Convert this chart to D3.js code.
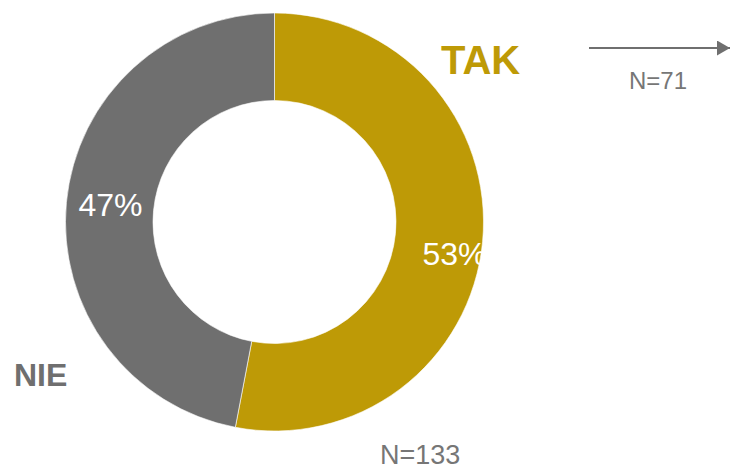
<!DOCTYPE html>
<html>
<head>
<meta charset="utf-8">
<script src="https://cdn.jsdelivr.net/npm/d3@7"></script>
<style>
  body { margin: 0; background: #fff; }
  text { font-family: Arial, "Liberation Sans", sans-serif; }
</style>
</head>
<body>
<div id="chart"></div>
<script>
// Data
const categories = ["TAK", "NIE"];
const values = [53, 47];
const colors = ["#BE9A06", "#6F6F6F"];
const totalLabel = "N=133";
const subLabel = "N=71";

const width = 730;
const height = 469;
const cx = 274.5, cy = 222;
const outerR = 209, innerR = 121.5;

const svg = d3.select("#chart")
    .append("svg")
    .attr("width", width)
    .attr("height", height);

const pie = d3.pie().sort(null).value(d => d)(values);
const arc = d3.arc().innerRadius(innerR).outerRadius(outerR);

const g = svg.append("g").attr("transform", `translate(${cx},${cy})`);

g.selectAll("path")
    .data(pie)
    .enter()
    .append("path")
    .attr("d", arc)
    .attr("fill", (d, i) => colors[i])
    .attr("stroke", "#fff")
    .attr("stroke-width", 0.6);

// percentage labels (white)
const pctPos = [[148, 43], [-196, -6]];
g.selectAll(".pct")
    .data(pie)
    .enter()
    .append("text")
    .attr("class", "pct")
    .attr("x", (d, i) => pctPos[i][0])
    .attr("y", (d, i) => pctPos[i][1])
    .attr("fill", "#fff")
    .attr("font-size", 32)
    .text(d => d.value + "%");

// category labels
svg.append("text")
    .attr("x", 441).attr("y", 74)
    .attr("fill", colors[0])
    .attr("font-size", 40)
    .attr("font-weight", "bold")
    .text(categories[0]);

svg.append("text")
    .attr("x", 14).attr("y", 386)
    .attr("fill", colors[1])
    .attr("font-size", 32)
    .attr("font-weight", "bold")
    .text(categories[1]);

// arrow
svg.append("defs").append("marker")
    .attr("id", "arrow")
    .attr("viewBox", "0 0 13 15")
    .attr("refX", 13).attr("refY", 7.5)
    .attr("markerWidth", 13).attr("markerHeight", 15)
    .attr("markerUnits", "userSpaceOnUse")
    .attr("orient", "auto")
    .append("path")
    .attr("d", "M0,0L13,7.5L0,15Z")
    .attr("fill", "#6F6F6F");

svg.append("line")
    .attr("x1", 589).attr("y1", 48)
    .attr("x2", 730).attr("y2", 48)
    .attr("stroke", "#6F6F6F")
    .attr("stroke-width", 2)
    .attr("marker-end", "url(#arrow)");

svg.append("text")
    .attr("x", 629).attr("y", 89)
    .attr("fill", "#767676")
    .attr("font-size", 24)
    .text(subLabel);

svg.append("text")
    .attr("x", 380).attr("y", 464)
    .attr("fill", "#767676")
    .attr("font-size", 27)
    .text(totalLabel);
</script>
</body>
</html>
